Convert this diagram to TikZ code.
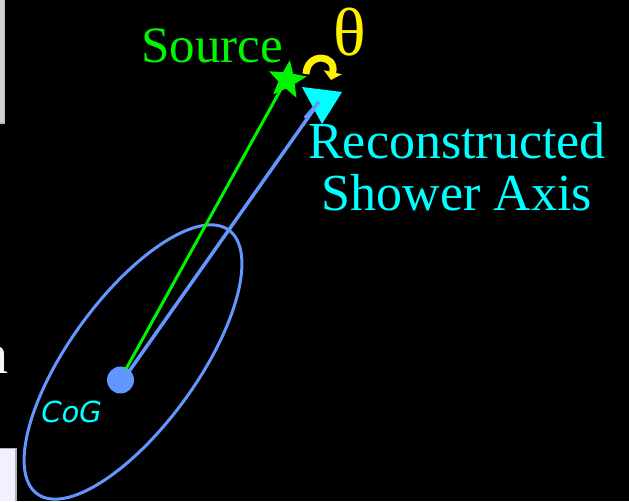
\documentclass[tikz,border=0pt]{standalone}
\usepackage{fontspec}
\setmainfont{Liberation Serif}
\newfontfamily\cogfont{DejaVu Sans}[FakeSlant=0.2]
\usetikzlibrary{shapes.geometric,arrows.meta}
\definecolor{axisblue}{RGB}{100,150,255}
\definecolor{srcgreen}{RGB}{0,245,0}
\definecolor{cyanlab}{RGB}{0,255,255}
\definecolor{thetayellow}{RGB}{255,240,0}
\tikzset{
  lab/.style={inner sep=0pt, font=\fontsize{52}{52}\selectfont},
  axisline/.style={draw=axisblue, line width=3.5pt},
}
\begin{document}
\begin{tikzpicture}[x=1pt,y=-1pt]
\useasboundingbox (0,0) rectangle (629,501);
\clip (0,0) rectangle (629,501);
\fill[black] (0,0) rectangle (629,501);
% edge artefacts
\fill[gray!55] (0,0) rectangle (5,124);
\fill[gray!35] (0,0) rectangle (3.5,122);
\fill[gray!60] (0,448) rectangle (17,501);
\fill[white!94!blue] (0,449) rectangle (14.5,501);
\node[anchor=base east, inner sep=0pt, text=white!94!gray, font=\fontsize{56}{60}\selectfont] (nchar) at (8.5,373) {n};
% ellipse
\draw[axisline, line width=3pt] (133,362) ellipse[x radius=163, y radius=64, rotate=54];
% CoG
\node[circle, fill=axisblue, minimum size=27pt, inner sep=0pt] (cog) at (120.5,380) {};
\coordinate (ta) at (302,87);
\coordinate (tb) at (342,92);
\coordinate (tc) at (322,124);
\coordinate (axisend) at (319,102);
% lines
\draw[srcgreen, line width=3pt] (126,369) -- (286,80);
\draw[axisline] (cog.center) ++(6,-5) -- (axisend);
% star
\node[star, star points=5, star point ratio=2.3, fill=srcgreen, minimum size=40pt, inner sep=0pt, rotate=-8] (src) at (287,80) {};
% triangle
\fill[cyanlab] (ta) -- (tb) -- (tc) -- cycle;
\draw[axisline] (305,118) -- (axisend);
% theta arc arrow
\draw[thetayellow, line width=7pt, -{Triangle[width=18pt,length=8pt]}] (306,74) .. controls (307,52) and (337,54) .. (331,80);
\node[inner sep=0pt, anchor=base, text=thetayellow, font=\fontsize{68}{70}\selectfont] (theta) at (350,55) {θ};
% labels
\node[lab, anchor=base, text=srcgreen, font=\fontsize{51}{52}\selectfont] (srclab) at (212,62) {Source};
\node[lab, anchor=north, align=center, text=cyanlab] (axislab) at (457,122) {Reconstructed\\Shower Axis};
\node[inner sep=0pt, anchor=base, text=cyanlab, font=\cogfont\fontsize{29}{30}\selectfont] (coglab) at (70,422) {CoG};
\end{tikzpicture}
\end{document}
